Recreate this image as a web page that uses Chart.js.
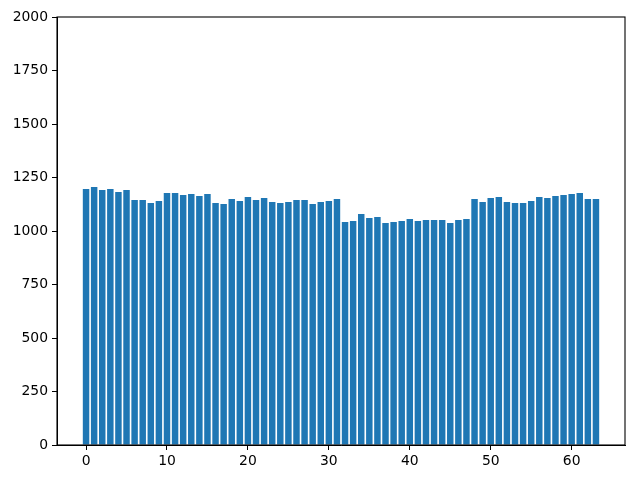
<!DOCTYPE html>
<html>
<head>
<meta charset="utf-8">
<script src="https://cdn.jsdelivr.net/npm/chart.js@4/dist/chart.umd.min.js"></script>
<style>
  body { margin: 0; background: #fff; }
</style>
</head>
<body>
<canvas id="chart" width="640" height="480"></canvas>
<script>
// bar heights, one per index 0..63
const values = [
    1196, 1206, 1192, 1196, 1182, 1192, 1145, 1145, 1131, 1140,
    1178, 1178, 1168, 1173, 1164, 1173, 1131, 1126, 1150, 1140,
    1159, 1145, 1154, 1136, 1131, 1136, 1145, 1145, 1126, 1136,
    1140, 1150, 1042, 1047, 1079, 1061, 1065, 1037, 1042, 1047,
    1056, 1047, 1051, 1051, 1051, 1037, 1051, 1056, 1150, 1136,
    1154, 1159, 1136, 1131, 1131, 1140, 1159, 1154, 1164, 1168,
    1173, 1178, 1150, 1150
];
const xTicks = [0, 10, 20, 30, 40, 50, 60];
const yTicks = [0, 250, 500, 750, 1000, 1250, 1500, 1750, 2000];

const tickFont = { family: 'DejaVu Sans', size: 13.9 };

// rectangle round the plot, like the axes frame
const frame = {
    id: 'frame',
    afterDraw(chart) {
        const a = chart.chartArea;
        const ctx = chart.ctx;
        ctx.save();
        ctx.strokeStyle = '#000';
        ctx.lineWidth = 1.1;
        ctx.strokeRect(a.left, a.top, a.right - a.left, a.bottom - a.top);
        ctx.restore();
    }
};

new Chart(document.getElementById('chart'), {
    type: 'bar',
    data: {
        datasets: [{
            data: values.map((v, i) => ({ x: i, y: v })),
            backgroundColor: '#1f77b4',
            barPercentage: 0.8,
            categoryPercentage: 1.0
        }]
    },
    options: {
        responsive: false,
        animation: false,
        devicePixelRatio: 1,
        layout: { padding: { top: 17, right: 15, left: 0, bottom: 0 } },
        plugins: { legend: { display: false }, tooltip: { enabled: false } },
        scales: {
            x: {
                type: 'linear',
                offset: false,
                min: -3.59,
                max: 66.59,
                afterFit: s => { s.height = 35; },
                afterBuildTicks: s => { s.ticks = xTicks.map(v => ({ value: v })); },
                grid: { drawOnChartArea: false, drawTicks: true, tickLength: 5, color: '#000', offset: false },
                border: { display: true, color: '#000' },
                ticks: { font: tickFont, color: '#000', padding: 3, maxRotation: 0, callback: v => String(v) }
            },
            y: {
                min: 0,
                max: 2000,
                afterFit: s => { s.width = 57; },
                afterBuildTicks: s => { s.ticks = yTicks.map(v => ({ value: v })); },
                grid: { drawOnChartArea: false, drawTicks: true, tickLength: 5, color: '#000' },
                border: { display: true, color: '#000' },
                ticks: { font: tickFont, color: '#000', padding: 4, callback: v => String(v) }
            }
        }
    },
    plugins: [frame]
});
</script>
</body>
</html>
